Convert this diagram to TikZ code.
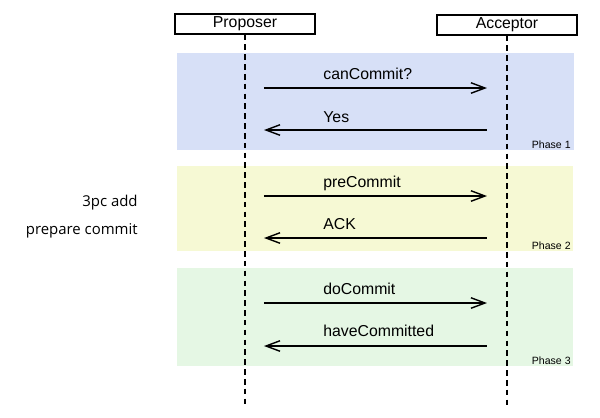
\documentclass[tikz,border=0pt]{standalone}
\usepackage{fontspec}
\setmainfont{Liberation Sans}
\newfontfamily\notefont{Open Sans}
\usetikzlibrary{arrows.meta}
\definecolor{bandblue}{HTML}{D7E0F7}
\definecolor{bandyellow}{HTML}{F6F9D4}
\definecolor{bandgreen}{HTML}{E5F7E4}
\tikzset{
	actor/.style={draw, line width=0.6pt, minimum width=140*0.02cm, minimum height=20*0.02cm, inner sep=0pt, font=\fontsize{9}{10}\selectfont},
	lifeline/.style={line width=0.7pt, dash pattern=on 3.2pt off 2.4pt},
	msg/.style={-{Straight Barb[length=8pt,width=6pt]}, line width=0.8pt},
	msglabel/.style={anchor=base west, inner sep=0pt, font=\fontsize{9}{10}\selectfont},
	phaselabel/.style={anchor=base east, inner sep=0pt, font=\fontsize{6}{7}\selectfont},
	note/.style={anchor=base east, inner sep=0pt, font=\notefont\fontsize{8.5}{10}\selectfont}
}

\begin{document}
\begin{tikzpicture}[x=0.02cm, y=-0.02cm, line cap=butt]
	\useasboundingbox (0,0) rectangle (600,417);

	% Phase bands
	\fill[bandblue] (177,53) rectangle (574,150);
	\fill[bandyellow] (177,166) rectangle (573,251);
	\fill[bandgreen] (177,268) rectangle (573,366);

	% Actors
	\node[actor] (proposer) at (245,24) {Proposer};
	\node[actor] (acceptor) at (507,25) {Acceptor};

	% Lifelines
	\coordinate (pend) at (245,405);
	\coordinate (aend) at (507,405);
	\draw[lifeline] (proposer.south) -- (pend);
	\draw[lifeline] (acceptor.south) -- (aend);

	% Message ends
	\foreach \name/\y in {one/88, two/130, three/196, four/238, five/303, six/346}{
		\coordinate (p\name) at (264,\y);
		\coordinate (a\name) at (487,\y);
	}

	% Phase 1
	\draw[msg] (pone) -- (aone);
	\draw[msg] (atwo) -- (ptwo);
	\node[msglabel] (cancommit) at (323,79) {canCommit?};
	\node[msglabel] (yes) at (323,122) {Yes};
	\node[phaselabel] (phone) at (571,148) {Phase 1};

	% Phase 2
	\draw[msg] (pthree) -- (athree);
	\draw[msg] (afour) -- (pfour);
	\node[msglabel] (precommit) at (323,187) {preCommit};
	\node[msglabel] (ack) at (323,229) {ACK};
	\node[phaselabel] (phtwo) at (571,249) {Phase 2};

	% Phase 3
	\draw[msg] (pfive) -- (afive);
	\draw[msg] (asix) -- (psix);
	\node[msglabel] (docommit) at (323,294) {doCommit};
	\node[msglabel] (havecommitted) at (323,336) {haveCommitted};
	\node[phaselabel] (phthree) at (571,364) {Phase 3};

	% Note
	\node[note] (addline) at (138,206) {3pc add};
	\node[note] (prepline) at (138,234) {prepare commit};
\end{tikzpicture}
\end{document}
